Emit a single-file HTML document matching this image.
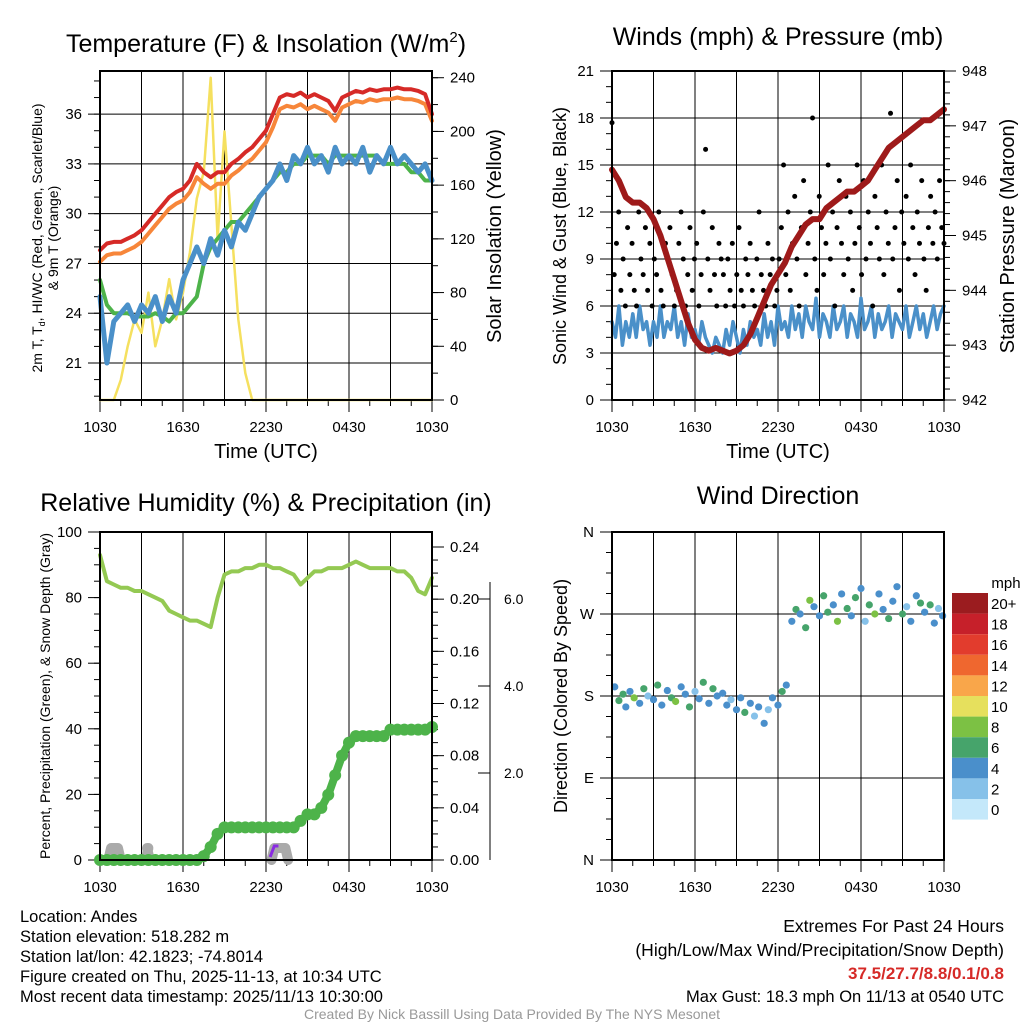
<!DOCTYPE html>
<html><head><meta charset="utf-8"><style>
html,body{margin:0;padding:0;background:#fff;}
svg{display:block;font-family:"Liberation Sans",Arial,sans-serif;}
</style></head><body>
<svg id="c" width="1024" height="1024" viewBox="0 0 1024 1024"></svg>
<script>
const hours=[];for(let i=0;i<=48;i++)hours.push(i*0.5);
const tempRed=[27.8,28.2,28.3,28.3,28.5,28.7,29,29.5,30,30.5,31,31.3,31.5,32,33,32.5,32.2,32.5,32.5,33,33.3,33.7,34,34.5,35,36,37,37.2,37.1,37.3,37,37.2,37,36.8,36.2,37,37.2,37.4,37.3,37.5,37.4,37.5,37.5,37.6,37.5,37.5,37.4,37.2,36];
const tempOrange=[27.1,27.5,27.6,27.6,27.8,28,28.3,28.8,29.3,29.8,30.3,30.6,30.8,31.3,32.2,31.8,31.5,31.8,31.8,32.3,32.6,33,33.3,33.8,34.3,35.2,36.3,36.5,36.4,36.6,36.3,36.5,36.3,36.1,35.6,36.4,36.6,36.8,36.7,36.9,36.8,36.9,36.9,37,36.9,36.9,36.8,36.6,35.6];
const tempBlue=[25,21,23.5,24,24.5,23.5,24.5,24,25,23.5,25,24,26,27,28,27,28.5,27.5,29,28,29.5,29,30,31,31.5,32,33,32,33.5,33,34,33,33.5,32.5,34,33,33.5,33,34,32.5,33.5,33,34,33,33.5,33,32.5,33,32];
const tempGreen=[26,24.5,24,24,24,23.8,23.8,23.8,24,23.8,23.5,24,24,24.5,25,27,28,28.5,29,29.5,29.5,30,30.5,31,31.5,32,32.5,32.5,33,33,33.5,33.5,33.5,33,33.5,33.5,33.5,33.5,33.5,33.5,33.5,33,33,33,33,32.5,32.5,32,32];
const insol=[0,0,0,15,40,60,50,80,40,60,90,60,80,110,150,170,240,120,200,130,60,20,0,0,0,0,0,0,0,0,0,0,0,0,0,0,0,0,0,0,0,0,0,0,0,0,0,0,0];
const wind=[5,4,6,3.5,5,4,5.5,4,6,4.5,5,3.5,5,4,6,4,5,4.5,6,4,5,3.5,5.5,4,4.5,3.5,5,4,3.5,3,4,3.5,3,4.5,3.5,5,4,3,4.5,3.5,5,4,4.5,3.5,5.5,4,5,3.5,6,4.5,5,4,6,4.5,5.5,4,6,5,4.5,6.5,4,5.5,5,4,6,4.5,5,6,4,5.5,5,4,6.5,4.5,5,6,4,5.5,4.5,5,6,4,5.5,5,4.5,6,4,5,6,4.5,5.5,4,5,6,4.5,5.5,6];
const pressure=[946.2,946,945.7,945.6,945.6,945.5,945.3,945,944.6,944.2,943.8,943.4,943.1,942.95,942.9,942.95,942.9,942.85,942.9,943,943.2,943.5,943.8,944.1,944.3,944.5,944.8,945,945.2,945.3,945.3,945.5,945.6,945.7,945.8,945.8,945.9,946,946.2,946.4,946.6,946.7,946.8,946.9,947,947.1,947.1,947.2,947.3];
const gusts=[17.7,8,10,12,7,9,6,11,8,10,7,6,12,9,8,11,7,10,6,9,8,12,7,6,10,9,11,8,6,7,10,12,9,6,8,11,7,9,10,6,8,12,16,9,7,11,8,6,10,9,8,6,9,7,10,6,8,11,7,6,9,8,10,7,6,9,12,8,7,6,10,8,9,6,7,9,11,15,8,12,7,10,13,9,6,11,14,8,10,12,18,9,7,13,11,8,10,15,9,12,6,11,14,10,8,13,9,12,7,10,15,11,8,14,9,12,10,6,13,11,9,15,8,12,10,18.3,9,11,14,7,12,10,13,9,15,11,8,12,10,14,9,7,11,13,10,12,9,14,11,10];
const rh=[93,85,84,83,83,82,82,81,80,79,76,75,74,73,73,72,71,80,87,88,88,89,89,90,90,89,89,88,87,84,86,88,88,89,89,89,90,91,90,89,89,89,89,88,88,86,82,81,86];
const precip=[0,0,0,0,0,0,0,0,0,0,0,0,0,0,0,0.003,0.01,0.02,0.025,0.025,0.025,0.025,0.025,0.025,0.025,0.025,0.025,0.025,0.025,0.03,0.035,0.035,0.04,0.05,0.065,0.08,0.09,0.095,0.095,0.095,0.095,0.095,0.1,0.1,0.1,0.1,0.1,0.1,0.102];
const dirTimes=[0.2,0.5,0.8,1,1.3,1.6,2,2.3,2.6,3,3.3,3.6,4,4.3,4.6,5,5.3,5.6,6,6.3,6.6,7,7.3,7.6,8,8.3,8.6,9,9.3,9.6,10,10.3,10.6,11,11.3,11.6,12,12.3,12.6,13,13.3,13.6,14,14.3,14.6,15,15.3,15.6,16,16.3,16.6,17,17.3,17.6,18,18.3,18.6,19,19.3,19.6,20,20.3,20.6,21,21.3,21.6,22,22.3,22.6,23,23.3,23.6,23.9];
const dirVals=[190,175,182,168,185,178,172,188,180,176,192,170,186,178,174,190,182,168,185,177,195,172,188,180,183,170,176,165,178,162,172,158,168,150,165,178,170,185,192,262,275,270,255,285,278,268,290,272,280,262,292,276,268,288,298,262,280,270,292,275,265,284,300,270,278,262,290,282,272,280,260,276,268];
const dirSpd=[3,5,6,4,3,7,4,5,2,4,6,3,4,5,7,3,4,5,2,4,6,3,5,4,3,4,2,3,4,5,3,2,4,3,2,4,3,5,4,3,6,4,5,7,3,4,6,5,3,7,4,5,3,6,4,2,5,7,3,4,6,3,4,5,2,4,3,6,4,5,3,2,4];
const cbLabels=['20+','18','16','14','12','10','8','6','4','2','0'];
const cbColors=['#9b1c1f','#c6202a','#e23c2d','#ef672f','#f9a64a','#e6e05d','#7cc144','#46a46b','#4a8fcb','#86c1e9','#c4e8fa'];

const S=document.getElementById('c');const NS='http://www.w3.org/2000/svg';
function el(t,a,p){const e=document.createElementNS(NS,t);for(const k in a)e.setAttribute(k,a[k]);(p||S).appendChild(e);return e;}
function txt(x,y,s,size,anchor,extra){const e=el('text',Object.assign({x:x,y:y,'font-size':size,'text-anchor':anchor||'middle',fill:'#000'},extra||{}));e.textContent=s;return e;}
function lin(d0,d1,r0,r1){return v=>r0+(v-d0)*(r1-r0)/(d1-d0);}
function poly(xs,ys,col,w,g,name){const p=xs.map((x,i)=>x.toFixed(1)+','+ys[i].toFixed(1)).join(' ');const e=el('polyline',{points:p,fill:'none',stroke:col,'stroke-width':w,'stroke-linejoin':'round','stroke-linecap':'round'},g);return e;}
const xl=['1030','1630','2230','0430','1030'];
function frame(x0,y0,x1,y1,name){
 const g=el('g',{});
 const xs=lin(0,24,x0,x1);
 for(let h=3;h<24;h+=3)el('line',{x1:xs(h),x2:xs(h),y1:y0,y2:y1,stroke:'#000','stroke-width':1},g);
 for(let h=0;h<=24;h+=1.5){el('line',{x1:xs(h),x2:xs(h),y1:y1,y2:y1+(h%6==0?12:6),stroke:'#000','stroke-width':1},g);}
 for(let i=0;i<5;i++){const t=txt(xs(i*6),y1+32,xl[i],15,'middle',{});}
 return {g,xs};
}
function box(x0,y0,x1,y1,g){el('rect',{x:x0,y:y0,width:x1-x0,height:y1-y0,fill:'none',stroke:'#000','stroke-width':2},g);}
function yticks(g,x,ys,vals,fmt,side,minorStep,lo,hi,grid,x1){
 vals.forEach(v=>{const y=ys(v);if(grid)el('line',{x1:x,x2:x1,y1:y,y2:y,stroke:'#000','stroke-width':1},g);
  el('line',{x1:x,x2:x+(side<0?-12:12),y1:y,y2:y,stroke:'#000'},g);
  const t=txt(x+(side<0?-18:18),y+5,fmt(v),15,side<0?'end':'start');});
 if(minorStep)for(let v=lo;v<=hi+1e-9;v+=minorStep){el('line',{x1:x,x2:x+(side<0?-6:6),y1:ys(v),y2:ys(v),stroke:'#000'},g);}
}
// Panel 1
(function(){
 const x0=100,x1=432,y0=71,y1=400;const f=frame(x0,y0,x1,y1,'temperature-panel');const g=f.g,xs=f.xs;
 const yT=lin(18.77,38.6,y1,y0),yI=lin(0,245,y1,y0);
 yticks(g,x0,yT,[21,24,27,30,33,36],v=>v,-1,1,19,38,true,x1);
 yticks(g,x1,yI,[0,40,80,120,160,200,240],v=>v,1,20,0,240,false);
 const X=hours.map(xs);
 poly(X,insol.map(yI),'#f5e05f',2.5,g,'insolation-line');
 poly(X,tempGreen.map(yT),'#4db34a',4,g,'hiwc-line');
 poly(X,tempBlue.map(yT),'#4a90c9',5,g,'dewpoint-line');
 poly(X,tempOrange.map(yT),'#f7863a',4,g,'temp-9m-line');
 poly(X,tempRed.map(yT),'#d62a27',4,g,'temp-2m-line');
 box(x0,y0,x1,y1,g);
 const t=el('text',{x:266,y:52,'font-size':25,'text-anchor':'middle'},g);t.innerHTML='Temperature (F) &amp; Insolation (W/m<tspan dy="-10" font-size="15">2</tspan><tspan dy="10">)</tspan>';
 txt(266,458,'Time (UTC)',20);
 const a=txt(0,0,'',14,'middle',{transform:'translate(42,238) rotate(-90)'});a.innerHTML='2m T, T<tspan font-size="9" dy="3">d</tspan><tspan dy="-3">, HI/WC (Red, Green, Scarlet/Blue)</tspan>';
 txt(0,0,'& 9m T (Orange)',14,'middle',{transform:'translate(58,238) rotate(-90)'});
 txt(0,0,'Solar Insolation (Yellow)',20,'middle',{transform:'translate(501,236) rotate(-90)'});
})();
// Panel 2
(function(){
 const x0=612,x1=944,y0=71,y1=400;const f=frame(x0,y0,x1,y1,'winds-panel');const g=f.g,xs=f.xs;
 const yW=lin(0,21,y1,y0),yP=lin(942,948,y1,y0);
 yticks(g,x0,yW,[0,3,6,9,12,15,18,21],v=>v,-1,1,0,21,true,x1);
 yticks(g,x1,yP,[942,943,944,945,946,947,948],v=>v,1,0.2,942,948,false);
 poly(wind.map((v,i)=>xs(i*24/(wind.length-1))),wind.map(yW),'#4a90c9',3.5,g,'wind-line');
 gusts.forEach((v,i)=>{const c=el('circle',{cx:xs(i*24/(gusts.length-1)),cy:yW(v),r:2.5,fill:'#000'},g);});
 poly(hours.map(xs),pressure.map(yP),'#9e1a1a',6,g,'pressure-line');
 box(x0,y0,x1,y1,g);
 txt(778,45,'Winds (mph) & Pressure (mb)',25);
 txt(778,458,'Time (UTC)',20);
 txt(0,0,'Sonic Wind & Gust (Blue, Black)',18,'middle',{transform:'translate(566,236) rotate(-90)'});
 txt(0,0,'Station Pressure (Maroon)',20,'middle',{transform:'translate(1014,236) rotate(-90)'});
})();
// Panel 3
(function(){
 const x0=100,x1=432,y0=532,y1=860;const f=frame(x0,y0,x1,y1,'humidity-panel');const g=f.g,xs=f.xs;
 const yR=lin(0,100,y1,y0),yPr=lin(0,0.2515,y1,y0);
 yticks(g,x0,yR,[0,20,40,60,80,100],v=>v,-1,5,0,100,false);
 yticks(g,x1,yPr,[0,0.04,0.08,0.12,0.16,0.2,0.24],v=>v.toFixed(2),1,0.01,0,0.24,false);
 const ySn=lin(0,6,y1,599);
 el('line',{x1:490,x2:490,y1:y0+50,y2:y1,stroke:'#000'},g);
 [2,4,6].forEach(v=>{el('line',{x1:490,x2:478,y1:ySn(v),y2:ySn(v),stroke:'#000'},g);txt(504,ySn(v)+5,v.toFixed(1),14,'start');});
 const X=hours.map(xs);
 [[0.6,1.5],[3.3,3.6],[12.4,13.6]].forEach(s=>{const e=el('path',{d:`M${xs(s[0])},${y1} L${xs(s[0]+0.2)},${y1-12} L${xs(s[1]-0.2)},${y1-12} L${xs(s[1])},${y1}`,fill:'none',stroke:'#aaa','stroke-width':10,'stroke-linejoin':'round','stroke-linecap':'round'},g);});
 el('path',{d:`M${xs(12.3)},${y1-3} L${xs(12.6)},${y1-14} L${xs(12.9)},${y1-14}`,fill:'none',stroke:'#8a2be2','stroke-width':3},g);
 poly(X,rh.map(yR),'#94c953',4,g,'rh-line');
 poly(X,precip.map(yPr),'#4db34a',8,g,'precip-line');
 precip.forEach((v,i)=>{const c=el('circle',{cx:X[i],cy:yPr(v),r:6,fill:'#4db34a'},g);});
 box(x0,y0,x1,y1,g);
 txt(266,511,'Relative Humidity (%) & Precipitation (in)',25);
 txt(0,0,'Percent, Precipitation (Green), & Snow Depth (Gray)',14,'middle',{transform:'translate(50,696) rotate(-90)'});
})();
// Panel 4
(function(){
 const x0=612,x1=944,y0=532,y1=860;const f=frame(x0,y0,x1,y1,'wind-direction-panel');const g=f.g,xs=f.xs;
 const yD=lin(0,360,y1,y0);
 [['N',0],['E',90],['S',180],['W',270],['N',360]].forEach(d=>{const y=yD(d[1]);if(d[1]>0&&d[1]<360)el('line',{x1:x0,x2:x1,y1:y,y2:y,stroke:'#000'},g);el('line',{x1:x0,x2:x0-12,y1:y,y2:y,stroke:'#000'},g);txt(x0-18,y+5,d[0],15,'end');});
 for(let v=0;v<=360;v+=22.5)el('line',{x1:x0,x2:x0-6,y1:yD(v),y2:yD(v),stroke:'#000'},g);
 dirTimes.forEach((h,i)=>{const c=el('circle',{cx:xs(h),cy:yD(dirVals[i]),r:3.6,fill:cbColors[10-Math.round(dirSpd[i]/2)]},g);});
 box(x0,y0,x1,y1,g);
 txt(778,504,'Wind Direction',25);
 txt(0,0,'Direction (Colored By Speed)',18,'middle',{transform:'translate(567,696) rotate(-90)'});
 const lg=el('g',{},S);
 txt(1006,588,'mph',15,'middle',{},lg);
 cbColors.forEach((c,i)=>{el('rect',{x:952,y:593+i*20.6,width:36,height:20.6,fill:c},lg);txt(991,609+i*20.6,cbLabels[i],15,'start');});
})();
// Footer
const L=['Location: Andes','Station elevation: 518.282 m','Station lat/lon: 42.1823; -74.8014','Figure created on Thu, 2025-11-13, at 10:34 UTC','Most recent data timestamp: 2025/11/13 10:30:00'];
L.forEach((s,i)=>{txt(20,922+i*20,s,16.5,'start');});
txt(1004,932,'Extremes For Past 24 Hours',17.5,'end');
txt(1004,956,'(High/Low/Max Wind/Precipitation/Snow Depth)',17.5,'end');
txt(1004,979,'37.5/27.7/8.8/0.1/0.8',17,'end',{fill:'#d62a27','font-weight':'bold'});
txt(1004,1002,'Max Gust: 18.3 mph On 11/13 at 0540 UTC',16.5,'end');
txt(512,1019,'Created By Nick Bassill Using Data Provided By The NYS Mesonet',14,'middle',{fill:'#999'});
</script>
</body></html>
